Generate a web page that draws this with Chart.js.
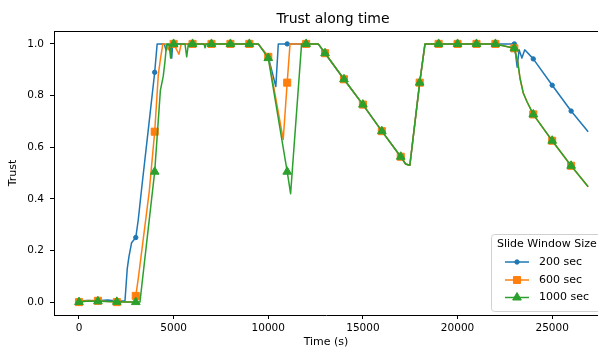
<!DOCTYPE html>
<html>
<head>
<meta charset="utf-8">
<script src="https://cdn.jsdelivr.net/npm/chart.js@4"></script>
<style>
  html, body { margin: 0; padding: 0; background: #fff; overflow: hidden; }
  canvas { display: block; }
</style>
</head>
<body>
<canvas id="trustChart" width="598" height="350"></canvas>
<script>
// --- datos ---
const blueTime  = [0, 400, 1000, 1500, 2000, 2430, 2550, 2640, 2780, 3000, 3130, 3310, 3660, 4000, 4130,
                   4500, 4600, 4700, 4800, 4900, 4950, 5000, 6000, 7000, 8000, 9000, 9470, 10000, 10400, 10530,
                   11000, 12000, 12640, 13000, 14000, 15000, 16000, 17000, 17250, 17480, 18000, 18280,
                   19000, 20000, 21000, 22000, 23000, 23150, 23250, 23400, 23550, 24000, 25000, 26000, 26900];
const blueTrust = [0.003, 0.006, 0.005, 0.008, 0.004, 0.004, 0.13, 0.176, 0.23, 0.25, 0.318, 0.44, 0.667, 0.89, 1.0,
                   1.0, 0.975, 1.0, 0.99, 0.945, 1.0, 1.0, 1.0, 1.0, 1.0, 1.0, 1.0, 0.95, 0.835, 1.0,
                   1.0, 1.0, 1.0, 0.964, 0.863, 0.765, 0.662, 0.563, 0.535, 0.53, 0.85, 1.0,
                   1.0, 1.0, 1.0, 1.0, 1.0, 0.91, 0.977, 0.945, 0.977, 0.942, 0.84, 0.74, 0.66];

const orangeTime  = [0, 500, 1000, 1500, 2000, 2500, 2950, 3000, 3130, 3715, 4000, 4190, 4300, 4430,
                     4600, 4720, 4800, 5000, 5280, 5400, 6000, 7000, 8000, 9000, 9470, 10000, 10790, 11000, 11150,
                     12000, 12640, 13000, 14000, 15000, 16000, 17000, 17250, 17480, 18000, 18280,
                     19000, 20000, 21000, 22000, 23000, 23180, 23300, 23470, 23670, 24000, 25000, 26000, 26900];
const orangeTrust = [0.0, 0.006, 0.005, 0.002, 0.0, 0.0, 0.0, 0.024, 0.09, 0.43, 0.66, 0.88, 0.94, 1.0,
                     1.0, 0.977, 1.0, 1.0, 0.96, 1.0, 1.0, 1.0, 1.0, 1.0, 1.0, 0.95, 0.63, 0.85, 1.0,
                     1.0, 1.0, 0.964, 0.863, 0.765, 0.662, 0.563, 0.535, 0.53, 0.85, 1.0,
                     1.0, 1.0, 1.0, 1.0, 0.983, 0.93, 0.867, 0.81, 0.776, 0.727, 0.625, 0.528, 0.447];

const greenTime  = [0, 500, 1000, 1500, 2000, 2500, 3000, 3220, 4000, 4300, 4450, 4540, 4630,
                    4760, 4840, 4900, 5000, 5600, 5690, 5780, 6000, 6600, 6660, 6720, 7000, 8000, 9000, 9470,
                    10000, 11000, 11180, 11760, 12000, 12640, 13000, 14000, 15000, 16000, 17000, 17250, 17480,
                    18000, 18280, 19000, 20000, 21000, 22000, 23000, 23180, 23300, 23470, 23670, 24000, 25000, 26000, 26900];
const greenTrust = [0.0, 0.004, 0.003, 0.002, 0.001, 0.0, 0.0, 0.0, 0.505, 0.82, 0.874, 0.93, 1.0,
                    1.0, 0.945, 1.0, 1.0, 1.0, 0.95, 1.0, 1.0, 1.0, 0.985, 1.0, 1.0, 1.0, 1.0, 1.0,
                    0.945, 0.505, 0.42, 1.0, 1.0, 1.0, 0.964, 0.863, 0.765, 0.662, 0.563, 0.535, 0.53,
                    0.85, 1.0, 1.0, 1.0, 1.0, 1.0, 0.983, 0.93, 0.867, 0.81, 0.776, 0.727, 0.625, 0.528, 0.447];

const seriesLabels = ['200 sec', '600 sec', '1000 sec'];
const xTicks = [0, 5000, 10000, 15000, 20000, 25000];
const yTicks = [0.0, 0.2, 0.4, 0.6, 0.8, 1.0];

const FONT = 'DejaVu Sans';

function toPoints(times, vals) {
    return times.map((t, i) => ({ x: t, y: vals[i] }));
}

// marcador cada 1000 s
function markerRadius(r) {
    return ctx => (ctx.raw && ctx.raw.x % 1000 === 0) ? r : 0;
}

const styles = [
    { color: '#1f77b4', pointStyle: 'circle', radius: 2.2 },
    { color: '#ff7f0e', pointStyle: 'rect', radius: 5 },
    { color: '#2ca02c', pointStyle: 'triangle', radius: 5 }
];

// título y borde superior (el eje sigue más allá del borde derecho del lienzo)
const framePlugin = {
    id: 'frame',
    afterDraw(chart) {
        const { ctx, chartArea: a } = chart;
        ctx.save();
        ctx.strokeStyle = '#000';
        ctx.lineWidth = 1;
        ctx.beginPath();
        ctx.moveTo(Math.round(a.left) + 0.5, Math.round(a.top) + 0.5);
        ctx.lineTo(chart.width + 2, Math.round(a.top) + 0.5);
        ctx.stroke();
        ctx.fillStyle = '#000';
        ctx.font = '14px "' + FONT + '"';
        ctx.textAlign = 'center';
        ctx.textBaseline = 'middle';
        ctx.fillText('Trust along time', 333, 19);
        ctx.restore();
    }
};

// leyenda dentro del área (recortada a la derecha como en el original)
const legendPlugin = {
    id: 'boxLegend',
    afterDraw(chart) {
        const ctx = chart.ctx;
        const bx = 491, by = 234, bw = 150, bh = 77;
        ctx.save();
        ctx.beginPath();
        ctx.roundRect(bx + 0.5, by + 0.5, bw, bh, 3);
        ctx.fillStyle = 'rgba(255,255,255,0.8)';
        ctx.fill();
        ctx.strokeStyle = '#d0d0d0';
        ctx.lineWidth = 1;
        ctx.stroke();

        ctx.font = '11px "' + FONT + '"';
        ctx.fillStyle = '#000';
        ctx.textAlign = 'left';
        ctx.textBaseline = 'middle';
        ctx.fillText('Slide Window Size', 497, 244);

        const rows = [262, 280, 297.5];
        seriesLabels.forEach((lbl, i) => {
            const s = styles[i];
            const y = rows[i];
            ctx.strokeStyle = s.color;
            ctx.lineWidth = 1.5;
            ctx.beginPath();
            ctx.moveTo(505, y);
            ctx.lineTo(529, y);
            ctx.stroke();
            ctx.fillStyle = s.color;
            ctx.lineWidth = 1;
            Chart.helpers.drawPoint(ctx, { pointStyle: s.pointStyle, radius: s.radius, rotation: 0, borderWidth: 1 }, 517, y);
            ctx.fillStyle = '#000';
            ctx.fillText(lbl, 539, y);
        });
        ctx.restore();
    }
};

const seriesData = [
    toPoints(blueTime, blueTrust),
    toPoints(orangeTime, orangeTrust),
    toPoints(greenTime, greenTrust)
];

new Chart(document.getElementById('trustChart').getContext('2d'), {
    type: 'line',
    data: {
        datasets: seriesData.map((d, i) => ({
            label: seriesLabels[i],
            data: d,
            order: 3 - i,
            borderColor: styles[i].color,
            backgroundColor: styles[i].color,
            borderWidth: 1.5,
            borderJoinStyle: 'round',
            tension: 0,
            fill: false,
            pointStyle: styles[i].pointStyle,
            pointRadius: markerRadius(styles[i].radius),
            pointHoverRadius: 0,
            pointBorderWidth: 1,
            pointBorderColor: styles[i].color,
            pointBackgroundColor: styles[i].color
        }))
    },
    options: {
        responsive: false,
        animation: false,
        events: [],
        devicePixelRatio: 1,
        layout: { autoPadding: false, padding: { left: 0, top: 31, right: 0, bottom: 0 } },
        plugins: {
            legend: { display: false },
            title: { display: false },
            tooltip: { enabled: false }
        },
        scales: {
            x: {
                type: 'linear',
                // parte visible del eje: el extremo derecho queda cortado por el lienzo
                min: -1320,
                max: 27420,
                afterBuildTicks: s => { s.ticks = xTicks.map(v => ({ value: v })); },
                afterFit: s => { s.height = 35; s.paddingLeft = 0; s.paddingRight = 0; },
                grid: { drawOnChartArea: false, drawTicks: true, tickLength: 4, color: '#000' },
                border: { display: true, color: '#000', width: 1 },
                ticks: {
                    color: '#000',
                    font: { family: FONT, size: 10.5 },
                    padding: 3,
                    maxRotation: 0,
                    autoSkip: false,
                    callback: v => String(v)
                },
                title: {
                    display: true,
                    text: 'Time (s)',
                    color: '#000',
                    font: { family: FONT, size: 11 },
                    padding: { top: 0, bottom: 1 }
                }
            },
            y: {
                type: 'linear',
                min: -0.05,
                max: 1.05,
                afterBuildTicks: s => { s.ticks = yTicks.map(v => ({ value: v })); },
                afterFit: s => { s.width = 54; s.paddingTop = 0; s.paddingBottom = 0; },
                grid: { drawOnChartArea: false, drawTicks: true, tickLength: 4, color: '#000' },
                border: { display: true, color: '#000', width: 1 },
                ticks: {
                    color: '#000',
                    font: { family: FONT, size: 10.5 },
                    padding: 6,
                    autoSkip: false,
                    callback: v => Number(v).toFixed(1)
                },
                title: {
                    display: true,
                    text: 'Trust',
                    color: '#000',
                    font: { family: FONT, size: 11 },
                    padding: { top: 7, bottom: 0 }
                }
            }
        }
    },
    plugins: [framePlugin, legendPlugin]
});
</script>
</body>
</html>
